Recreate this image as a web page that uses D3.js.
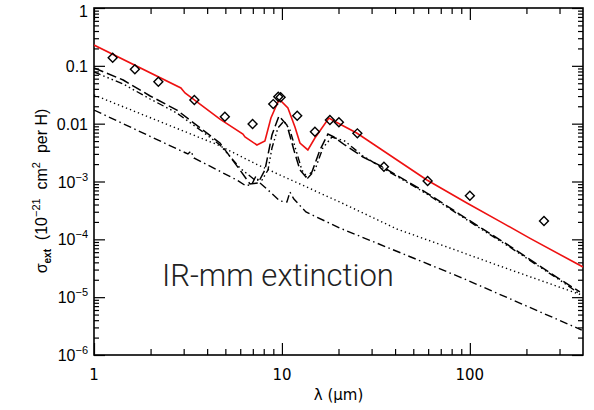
<!DOCTYPE html>
<html><head><meta charset="utf-8">
<script src="https://cdn.jsdelivr.net/npm/d3@7"></script>
<style>
html,body{margin:0;padding:0;background:#fff;}
svg{display:block;}
</style></head>
<body>
<svg id="chart" width="594" height="410"></svg>
<script>
// ---- data ----
const xTickValues = [1, 10, 100];
const xTickLabels = ["1", "10", "100"];
const yTickValues = [1, 0.1, 0.01, 1e-3, 1e-4, 1e-5, 1e-6];
const yTickLabels = [["1", ""], ["0.1", ""], ["0.01", ""], ["10", "\u22123"], ["10", "\u22124"], ["10", "\u22125"], ["10", "\u22126"]];

// total model (red)
const totalLam = [1.0, 2.90, 3.05, 4.68, 6.20, 6.36, 7.36, 8.12, 8.74, 9.52, 9.88, 10.76, 11.73, 12.47, 13.74, 14.98, 17.78, 19.37, 25.0, 59.1, 96.4, 150, 208, 400];
const totalSig = [0.229, 0.0414, 0.0339, 0.0120, 0.00662, 0.00588, 0.00428, 0.00501, 0.01253, 0.0237, 0.0247, 0.0187, 0.00875, 0.00463, 0.00351, 0.00565, 0.01253, 0.0107, 0.0069, 0.00106, 4.25e-4, 1.91e-4, 1.05e-4, 3.32e-5];

// component 1 (long dash)
const comp1Lam = [1.0, 1.43, 1.99, 2.76, 3.80, 4.68, 5.98, 6.76, 7.46, 8.12, 8.85, 9.64, 10.63, 11.58, 12.47, 13.42, 14.44, 15.93, 17.57, 18.9, 21.6, 27.0, 34.4, 59.1, 86.3, 117, 163, 227, 312, 385];
const comp1Sig = [0.0918, 0.0569, 0.0301, 0.0172, 0.00777, 0.00463, 0.00158, 9.05e-4, 9.4e-4, 0.00158, 0.00637, 0.01357, 0.00948, 0.0035, 0.00158, 0.0012, 0.00146, 0.0035, 0.00662, 0.00588, 0.00428, 0.00265, 0.00178, 6.32e-4, 2.85e-4, 1.51e-4, 7.66e-5, 3.74e-5, 1.9e-5, 1.23e-5];

// component 2 (dash dot dot dot)
const comp2Lam = [1.0, 1.43, 1.99, 2.76, 3.80, 4.68, 5.98, 7.18, 7.83, 8.43, 8.85, 9.52, 10.25, 11.03, 11.87, 12.77, 13.74, 14.98, 16.5, 18.45, 21.6, 27.0, 34.4, 59.1, 86.3, 117, 163, 227, 312, 385];
const comp2Sig = [0.0782, 0.0485, 0.0267, 0.0153, 0.00718, 0.00428, 0.00171, 0.00106, 0.00106, 0.00158, 0.00379, 0.0084, 0.0111, 0.00777, 0.0035, 0.00158, 0.00115, 0.00158, 0.00379, 0.00588, 0.00501, 0.00276, 0.00171, 6.08e-4, 2.74e-4, 1.45e-4, 7.36e-5, 3.6e-5, 1.83e-5, 1.13e-5];

// component 3 (dotted)
const comp3Lam = [1.0, 4.57, 7.46, 12.47, 20.3, 40.9, 78.3, 144, 394];
const comp3Sig = [0.0313, 0.00428, 0.00193, 9.05e-4, 4.42e-4, 1.51e-4, 7.08e-5, 3.46e-5, 1.09e-5];

// component 4 (dash dot)
const comp4Lam = [1.0, 3.16, 3.28, 3.40, 5.76, 6.44, 6.93, 7.27, 7.64, 8.43, 9.76, 10.63, 11.03, 11.58, 13.42, 20.3, 88.5, 394];
const comp4Sig = [0.0172, 0.00299, 0.00337, 0.00255, 0.00106, 8.36e-4, 9.05e-4, 0.00124, 9.4e-4, 7.13e-4, 4.6e-4, 4.42e-4, 6.58e-4, 4.98e-4, 2.97e-4, 1.57e-4, 2.23e-5, 2.7e-6];

// observations (diamonds)
const obsLam = [1.257, 1.65, 2.2, 3.42, 4.97, 6.98, 8.99, 9.56, 9.84, 12.06, 14.98, 18.0, 20.1, 25.2, 34.9, 59.6, 100, 248];
const obsSig = [0.138, 0.087, 0.053, 0.0257, 0.0132, 0.00986, 0.0218, 0.0292, 0.0286, 0.0137, 0.00726, 0.01157, 0.01055, 0.0068, 0.0018, 0.00102, 5.68e-4, 2.07e-4];

const titleText = "IR-mm extinction";

// ---- layout ----
const L = 94, R = 583, T = 8, B = 355;
const svg = d3.select("#chart");
const x = d3.scaleLog().domain([1, 400]).range([L, R]);
const y = d3.scaleLog().domain([1e-6, 1]).range([B, T]);

function minorTicks(lo, hi) {
  const out = [];
  for (let e = Math.floor(Math.log10(lo)); e <= Math.ceil(Math.log10(hi)); e++) {
    for (let m = 2; m <= 9; m++) {
      const v = m * Math.pow(10, e);
      if (v > lo && v < hi) out.push(v);
    }
  }
  return out;
}
const xMinor = minorTicks(1, 400);
const yMinor = minorTicks(1e-6, 1);

function drawAxis(axisGen, tx, ty, values, size) {
  const g = svg.append("g").attr("transform", `translate(${tx},${ty})`)
    .call(axisGen.tickValues(values).tickSize(size).tickFormat(""));
  g.select(".domain").remove();
  g.selectAll(".tick line").attr("stroke", "#000").attr("stroke-width", 1.2);
  return g;
}
// bottom ticks (pointing up)
drawAxis(d3.axisTop(x), 0, B, xTickValues, 12);
drawAxis(d3.axisTop(x), 0, B, xMinor, 6);
// top ticks (pointing down)
drawAxis(d3.axisBottom(x), 0, T, xTickValues, 12);
drawAxis(d3.axisBottom(x), 0, T, xMinor, 6);
// left ticks (pointing right)
drawAxis(d3.axisRight(y), L, 0, yTickValues, 11);
drawAxis(d3.axisRight(y), L, 0, yMinor, 5);
// right ticks (pointing left)
drawAxis(d3.axisLeft(y), R, 0, yTickValues, 11);
drawAxis(d3.axisLeft(y), R, 0, yMinor, 5);

// frame
svg.append("rect").attr("x", L).attr("y", T).attr("width", R - L).attr("height", B - T)
  .attr("fill", "none").attr("stroke", "#000").attr("stroke-width", 1.6);

// x tick labels
svg.append("g").selectAll("text").data(xTickValues).join("text")
  .attr("x", d => x(d)).attr("y", 380)
  .attr("text-anchor", "middle")
  .attr("font-family", "DejaVu Sans, sans-serif").attr("font-size", 15)
  .attr("fill", "#000")
  .text((d, i) => xTickLabels[i]);

// y tick labels
const yl = svg.append("g").selectAll("text").data(yTickValues).join("text")
  .attr("x", 88).attr("y", (d, i) => y(d) + 6 + (i === 0 ? 3 : 0))
  .attr("text-anchor", "end")
  .attr("font-family", "Liberation Sans, Arial, sans-serif").attr("font-size", 16)
  .attr("fill", "#000");
yl.each(function (d, i) {
  const t = d3.select(this);
  t.append("tspan").text(yTickLabels[i][0]);
  if (yTickLabels[i][1]) {
    t.append("tspan").attr("font-size", 11).attr("dy", -7).text(yTickLabels[i][1]);
  }
});

// axis titles
svg.append("text").attr("x", (L + R) / 2).attr("y", 400).attr("text-anchor", "middle")
  .attr("font-family", "DejaVu Sans, sans-serif").attr("font-size", 15).attr("fill", "#000")
  .text("\u03bb (\u03bcm)");

const yt = svg.append("text").attr("transform", `translate(47,191) rotate(-90)`)
  .attr("text-anchor", "middle")
  .attr("font-family", "Liberation Sans, Arial, sans-serif").attr("font-size", 16).attr("fill", "#000");
yt.append("tspan").text("\u03c3");
yt.append("tspan").attr("font-size", 10).attr("font-weight", "bold").attr("dy", 4).text("ext");
yt.append("tspan").attr("dy", -4).text("\u00a0\u00a0(10");
yt.append("tspan").attr("font-size", 11).attr("dy", -7).text("\u221221");
yt.append("tspan").attr("dy", 7).text("\u00a0\u00a0cm");
yt.append("tspan").attr("font-size", 11).attr("dy", -7).text("2");
yt.append("tspan").attr("dy", 7).text("\u00a0\u00a0per H)");

// lines
const line = d3.line().x(d => x(d[0])).y(d => y(d[1]));
function series(lam, sig) { return lam.map((l, i) => [l, sig[i]]); }
const clip = svg.append("clipPath").attr("id", "clip").append("rect")
  .attr("x", L).attr("y", T).attr("width", R - L).attr("height", B - T);
const plot = svg.append("g").attr("clip-path", "url(#clip)");

plot.append("path").datum(series(comp3Lam, comp3Sig)).attr("d", line)
  .attr("fill", "none").attr("stroke", "#000").attr("stroke-width", 1.4).attr("stroke-dasharray", "1.3,3");
plot.append("path").datum(series(comp4Lam, comp4Sig)).attr("d", line)
  .attr("fill", "none").attr("stroke", "#000").attr("stroke-width", 1.4).attr("stroke-dasharray", "8,3.5,1.5,3.5");
plot.append("path").datum(series(comp2Lam, comp2Sig)).attr("d", line)
  .attr("fill", "none").attr("stroke", "#000").attr("stroke-width", 1.4).attr("stroke-dasharray", "7,3,1.5,3,1.5,3,1.5,3");
plot.append("path").datum(series(comp1Lam, comp1Sig)).attr("d", line)
  .attr("fill", "none").attr("stroke", "#000").attr("stroke-width", 1.5).attr("stroke-dasharray", "10,4");
plot.append("path").datum(series(totalLam, totalSig)).attr("d", line)
  .attr("fill", "none").attr("stroke", "#ee1111").attr("stroke-width", 1.6);

// diamonds
const sym = d3.symbol().type(d3.symbolSquare).size(40);
plot.append("g").selectAll("path").data(series(obsLam, obsSig)).join("path")
  .attr("d", sym)
  .attr("transform", d => `translate(${x(d[0])},${y(d[1])}) rotate(45)`)
  .attr("fill", "none").attr("stroke", "#000").attr("stroke-width", 1.4);

// annotation
svg.append("text").attr("x", 162).attr("y", 286)
  .attr("font-family", "Roboto, Liberation Sans, Arial, sans-serif").attr("font-size", 31)
  .attr("font-weight", 300)
  .attr("fill", "#222")
  .text(titleText);
</script>
</body></html>
